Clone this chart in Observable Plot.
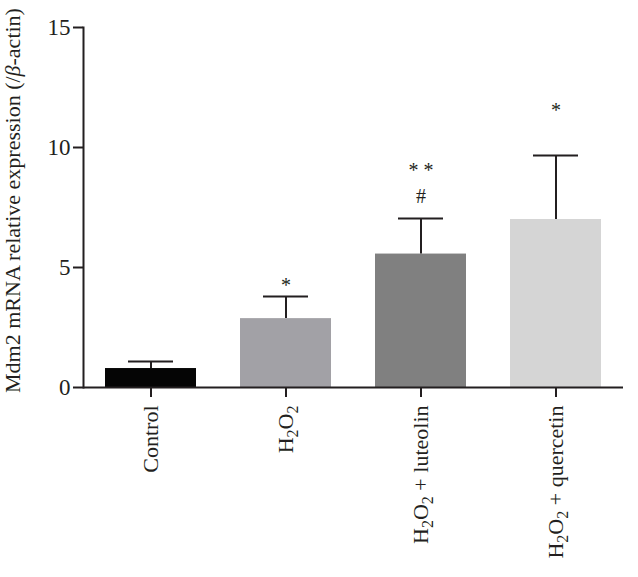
<!DOCTYPE html>
<html>
<head>
<meta charset="utf-8">
<script src="https://cdn.jsdelivr.net/npm/d3@7"></script>
<script src="https://cdn.jsdelivr.net/npm/@observablehq/plot@0.6"></script>
<style>
  html, body { margin: 0; padding: 0; background: #fff; }
</style>
</head>
<body>
<div id="chart"></div>
<script>
const categories = ["Control", "H₂O₂", "H₂O₂ + luteolin", "H₂O₂ + quercetin"];
const means = [0.79, 2.87, 5.56, 7.0];
const sds = [0.29, 0.92, 1.48, 2.67];
const annoCats = ["H₂O₂", "H₂O₂ + luteolin", "H₂O₂ + luteolin", "H₂O₂ + quercetin"];
const annoY = [4.25, 9.04, 7.96, 11.54];
const annoText = ["*", "* *", "#", "*"];
const yTicks = [0, 5, 10, 15];
const yLabel = "Mdm2 mRNA relative expression (/β-actin)";

const ink = "#231f20";
const barColors = ["#050505", "#a2a1a6", "#808080", "#d5d5d5"];

const data = categories.map((c, i) => ({cat: c, mean: means[i], sd: sds[i]}));
const annos = annoCats.map((c, i) => ({cat: c, y: annoY[i], text: annoText[i]}));

const plot = Plot.plot({
  width: 638,
  height: 577,
  marginLeft: 83,
  marginRight: 15,
  marginTop: 27,
  marginBottom: 190,
  style: {fontFamily: "'Liberation Serif', 'Times New Roman', serif", fontSize: "22px", color: ink, background: "#fff"},
  x: {domain: categories, paddingInner: 0.326, paddingOuter: 0.163, label: null},
  y: {domain: [0, 15], label: null},
  color: {domain: categories, range: barColors},
  marks: [
    Plot.barY(data, {x: "cat", y: "mean", fill: "cat"}),
    Plot.ruleX(data, {x: "cat", y1: "mean", y2: d => d.mean + d.sd, stroke: ink, strokeWidth: 2}),
    Plot.tickY(data, {x: "cat", y: d => d.mean + d.sd, stroke: ink, strokeWidth: 2, insetLeft: 23, insetRight: 23}),
    Plot.text(annos, {x: "cat", y: "y", text: "text", fill: ink, fontSize: 20, lineAnchor: "middle"}),
    Plot.ruleY([0], {stroke: ink, strokeWidth: 2}),
    Plot.frame({anchor: "left", stroke: ink, strokeWidth: 2}),
    Plot.axisY({ticks: yTicks, tickSize: 10, tickPadding: 3, strokeWidth: 2, stroke: ink, fontSize: 23, label: null}),
    Plot.axisX({tickSize: 10, tickPadding: 8, tickRotate: -90, strokeWidth: 2, stroke: ink, fontSize: 22, label: null}),
    Plot.text([yLabel], {frameAnchor: "left", rotate: -90, dx: -71, dy: -7, textAnchor: "middle", lineAnchor: "middle", fontSize: 22, fill: ink})
  ]
});

// Typographic refinements: subscripts for chemical formulas, italic beta.
const NS = "http://www.w3.org/2000/svg";
function mk(txt, attrs) {
  const t = document.createElementNS(NS, "tspan");
  t.textContent = txt;
  for (const k in attrs) t.setAttribute(k, attrs[k]);
  return t;
}
plot.querySelectorAll("text").forEach(el => {
  const s = el.textContent;
  if (s.includes("₂")) {
    el.textContent = "";
    const parts = s.split("₂");
    parts.forEach((p, i) => {
      if (i > 0) el.appendChild(mk("2", {"font-size": "16", dy: "5"}));
      if (p) el.appendChild(mk(p, i > 0 ? {dy: "-5"} : {}));
    });
  } else if (s.includes("β")) {
    el.textContent = "";
    const [a, b] = s.split("β");
    el.appendChild(mk(a, {}));
    el.appendChild(mk("β", {"font-style": "italic"}));
    el.appendChild(mk(b, {}));
  }
});

document.getElementById("chart").appendChild(plot);
</script>
</body>
</html>
